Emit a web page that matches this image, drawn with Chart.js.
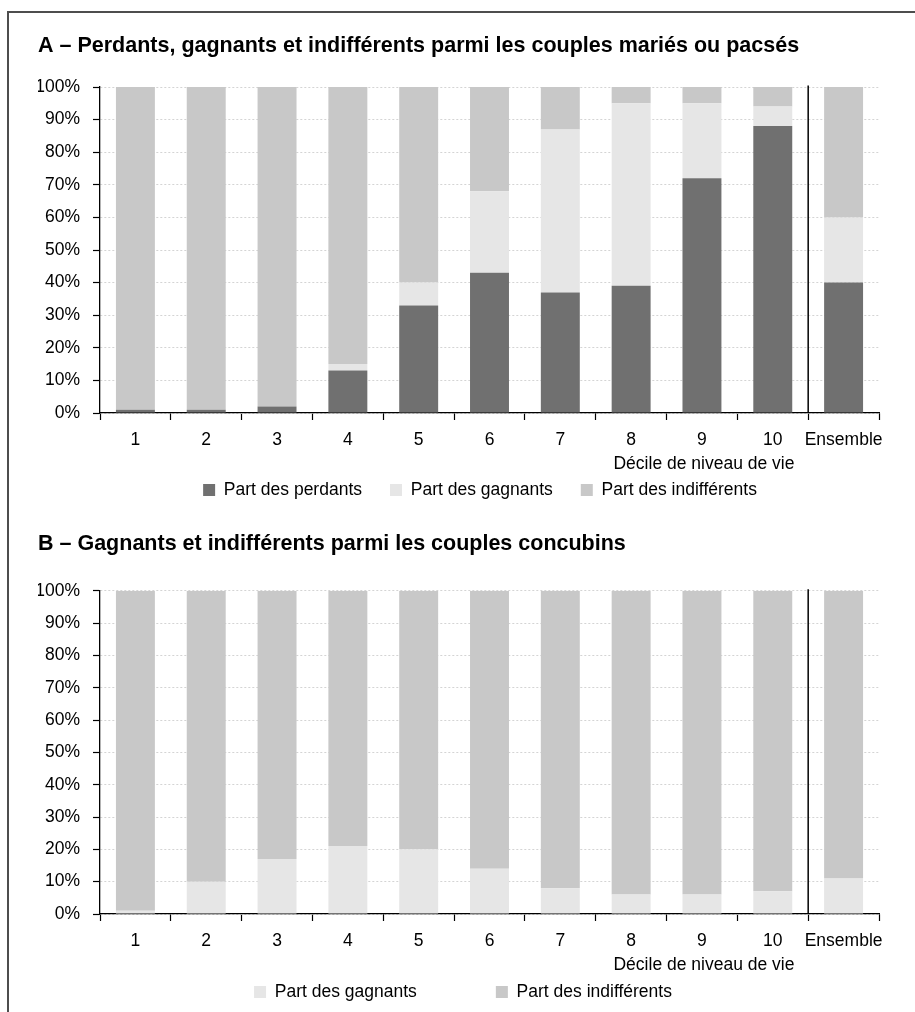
<!DOCTYPE html>
<html lang="fr">
<head>
<meta charset="utf-8">
<title>Perdants, gagnants et indifférents</title>
<script src="https://cdn.jsdelivr.net/npm/chart.js@4/dist/chart.umd.min.js"></script>
<style>
  html, body { margin: 0; padding: 0; background: #fff; overflow: hidden; }
  body { width: 915px; height: 1012px; position: relative; }
  #frame { position: absolute; left: 7px; top: 11px; width: 940px; height: 1100px;
           border-top: 2px solid #4d4d4d; border-left: 2px solid #4d4d4d; }
  canvas { position: absolute; left: 38px; }
  #cA { top: 12px; }
  #cB { top: 505px; }
</style>
</head>
<body>
<div id="frame"></div>
<canvas id="cA" width="877" height="497"></canvas>
<canvas id="cB" width="877" height="507"></canvas>
<script>
// ---- data ----
const categories = ['1', '2', '3', '4', '5', '6', '7', '8', '9', '10', 'Ensemble'];
const yTickValues = [0, 10, 20, 30, 40, 50, 60, 70, 80, 90, 100];

const titleA = 'A – Perdants, gagnants et indifférents parmi les couples mariés ou pacsés';
const titleB = 'B – Gagnants et indifférents parmi les couples concubins';
const xAxisTitle = 'Décile de niveau de vie';

const seriesNames = ['Part des perdants', 'Part des gagnants', 'Part des indifférents'];

const aPerdants     = [1, 1, 2, 13, 33, 43, 37, 39, 72, 88, 40];
const aGagnants     = [0, 0, 0, 2, 7, 25, 50, 56, 23, 6, 20];
const aIndifferents = [99, 99, 98, 85, 60, 32, 13, 5, 5, 6, 40];

const bGagnants     = [1, 10, 17, 21, 20, 14, 8, 6, 6, 7, 11];
const bIndifferents = [99, 90, 83, 79, 80, 86, 92, 94, 94, 93, 89];

// ---- styles ----
const FONT = "'Liberation Sans', Arial, Helvetica, sans-serif";
const TICK_SIZE = 17.5;
const COL_PERDANTS = '#707070';
const COL_GAGNANTS = '#e6e6e6';
const COL_INDIFF = '#c8c8c8';

// Separator line between decile 10 and "Ensemble", plus the x-axis caption
const extras = {
  id: 'extras',
  afterDatasetsDraw(chart) {
    const x = chart.scales.x, y = chart.scales.y, ctx = chart.ctx;
    const xs = (x.getPixelForValue(9) + x.getPixelForValue(10)) / 2;
    ctx.save();
    ctx.strokeStyle = '#000';
    ctx.lineWidth = 1.5;
    ctx.beginPath();
    ctx.moveTo(xs, y.getPixelForValue(100) - 1.5);
    ctx.lineTo(xs, y.getPixelForValue(0));
    ctx.stroke();
    ctx.restore();
  },
  afterDraw(chart, args, opts) {
    const x = chart.scales.x, ctx = chart.ctx;
    ctx.save();
    ctx.font = TICK_SIZE + 'px ' + FONT;
    ctx.fillStyle = '#000';
    ctx.textAlign = 'center';
    ctx.textBaseline = 'middle';
    ctx.fillText(opts.text, x.getPixelForValue(8) + 2, x.top + opts.dy);
    ctx.restore();
  }
};

// Place the legend row where the reference draws it
const placeLegend = {
  id: 'placeLegend',
  afterLayout(chart, args, opts) {
    const lg = chart.legend;
    if (!lg) return;
    const w = lg.right - lg.left;
    const pad = opts.pad, fs = opts.fs;
    lg.left = opts.cx - w / 2;
    lg.right = lg.left + w;
    lg.top = opts.rowY - pad - fs / 2;
    lg.bottom = opts.rowY + fs;
    lg.height = lg.bottom - lg.top;
  }
};

function makeOptions(title, tPadTop, tPadBottom, legendPad, legendMaxH, cx, rowY) {
  return {
    responsive: false,
    animation: false,
    devicePixelRatio: 1,
    layout: { padding: { left: 0, right: 36, top: 0, bottom: 0 } },
    plugins: {
      title: {
        display: true, text: title, align: 'start', color: '#000',
        font: { family: FONT, size: 21.5, weight: 'bold', lineHeight: 1.2 },
        padding: { top: tPadTop, bottom: tPadBottom }
      },
      legend: {
        display: true, position: 'bottom', align: 'center', maxHeight: legendMaxH,
        labels: {
          color: '#000', boxWidth: 12, boxHeight: 12, padding: legendPad,
          font: { family: FONT, size: TICK_SIZE }
        }
      },
      tooltip: { enabled: false },
      extras: { text: xAxisTitle, dy: 51 },
      placeLegend: { cx: cx, rowY: rowY, pad: legendPad, fs: TICK_SIZE }
    },
    scales: {
      x: {
        stacked: true,
        offset: true,
        grid: { display: true, offset: true, drawOnChartArea: false, drawTicks: true,
                tickLength: 7, tickColor: '#000', tickWidth: 1.2 },
        border: { display: true, color: '#000', width: 1.3 },
        ticks: { color: '#000', autoSkip: false, maxRotation: 0, padding: 10,
                 font: { family: FONT, size: TICK_SIZE } },
        afterFit(scale) { scale.height = 41; }
      },
      y: {
        stacked: true,
        min: 0, max: 100,
        afterBuildTicks(scale) { scale.ticks = yTickValues.map(v => ({ value: v })); },
        grid: { color: '#d4d4d4', lineWidth: 1, drawTicks: true, tickLength: 7,
                tickColor: '#000', tickWidth: 1.2, tickBorderDash: [] },
        border: { display: true, color: '#000', width: 1.3, dash: [2, 2] },
        ticks: { color: '#000', padding: 13, font: { family: FONT, size: TICK_SIZE },
                 callback: v => v + '%' },
        afterFit(scale) { scale.width = 62; }
      }
    }
  };
}

function ds(label, data, color) {
  return { label: label, data: data, backgroundColor: color, borderWidth: 0,
           barPercentage: 1, categoryPercentage: 0.55 };
}

new Chart(document.getElementById('cA'), {
  type: 'bar',
  data: {
    labels: categories,
    datasets: [
      ds(seriesNames[0], aPerdants, COL_PERDANTS),
      ds(seriesNames[1], aGagnants, COL_GAGNANTS),
      ds(seriesNames[2], aIndifferents, COL_INDIFF)
    ]
  },
  options: makeOptions(titleA, 21, 28.2, 28, 55, 480 - 38, 478),
  plugins: [extras, placeLegend]
});

new Chart(document.getElementById('cB'), {
  type: 'bar',
  data: {
    labels: categories,
    datasets: [
      ds(seriesNames[1], bGagnants, COL_GAGNANTS),
      ds(seriesNames[2], bIndifferents, COL_INDIFF)
    ]
  },
  options: makeOptions(titleB, 26, 33.9, 79, 57, 463 - 38, 487),
  plugins: [extras, placeLegend]
});
</script>
</body>
</html>
